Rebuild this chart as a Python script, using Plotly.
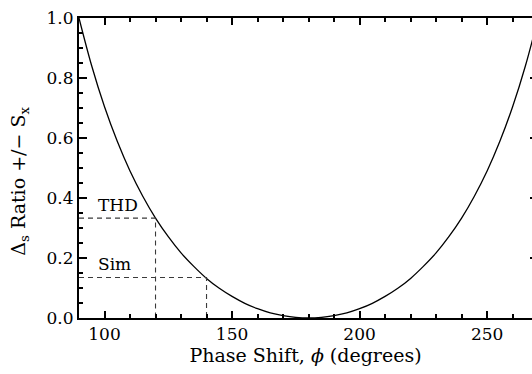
import plotly.graph_objects as go

# Phase shift (degrees) and Delta_S ratio
phase = [90, 95, 100, 105, 110, 115, 120, 125, 130, 135, 140, 145, 150, 155,
         160, 165, 170, 175, 180, 185, 190, 195, 200, 205, 210, 215, 220,
         225, 230, 235, 240, 245, 250, 255, 260, 265, 270]
ratio = [1.000, 0.840, 0.704, 0.589, 0.490, 0.406, 0.333, 0.271, 0.217,
         0.172, 0.132, 0.099, 0.072, 0.049, 0.031, 0.017, 0.008, 0.002,
         0.000, 0.002, 0.008, 0.017, 0.031, 0.049, 0.072, 0.099, 0.132,
         0.172, 0.217, 0.271, 0.333, 0.406, 0.490, 0.589, 0.704, 0.840,
         1.000]

# Marked operating points
mark_labels = ["THD", "Sim"]
mark_phase = [120, 140]
mark_ratio = [0.333, 0.135]

x_min, x_max = 90, 267.6
font_family = "DejaVu Serif"

fig = go.Figure()
fig.add_trace(go.Scatter(x=phase, y=ratio, mode="lines",
                         line=dict(color="black", width=1.3, shape="spline"),
                         showlegend=False, hoverinfo="skip"))

for lab, px, ry in zip(mark_labels, mark_phase, mark_ratio):
    fig.add_trace(go.Scatter(x=[x_min, px, px], y=[ry, ry, 0], mode="lines",
                             line=dict(color="#3a3a3a", width=1.1, dash="5px,4px"),
                             showlegend=False, hoverinfo="skip"))
    fig.add_annotation(x=96.5, y=ry + 0.044, text=lab, showarrow=False,
                       xanchor="left", yanchor="middle",
                       font=dict(family=font_family, size=17, color="black"))

# y-axis title placed as a rotated annotation
fig.add_annotation(xref="paper", yref="paper", x=-0.132, y=0.455,
                   text="Δ<sub>s</sub> Ratio +/− S<sub>x</sub>",
                   textangle=-90, showarrow=False,
                   xanchor="center", yanchor="middle",
                   font=dict(family=font_family, size=19, color="black"))

fig.add_trace(go.Scatter(x=[x_min], y=[0], yaxis="y2", mode="markers",
                         marker=dict(opacity=0), showlegend=False,
                         hoverinfo="skip"))

fig.update_layout(
    width=532, height=374,
    margin=dict(l=79, r=0, t=18, b=56),
    paper_bgcolor="white", plot_bgcolor="white",
    font=dict(family=font_family, size=17, color="black"),
    xaxis=dict(range=[x_min, x_max], showgrid=False, zeroline=False,
               showline=True, linewidth=2, linecolor="black", mirror="ticks",
               ticks="inside", ticklen=7, tickwidth=1.5, tickcolor="black",
               dtick=50, tick0=0,
               minor=dict(dtick=10, ticklen=4, tickwidth=1.5, ticks="inside",
                          tickcolor="black", showgrid=False),
               tickfont=dict(size=17),
               title=dict(text="Phase Shift, <i>ϕ</i> (degrees)",
                          font=dict(size=19), standoff=3)),
    yaxis=dict(range=[0, 1], showgrid=False, zeroline=False,
               showline=True, linewidth=2, linecolor="black",
               ticks="inside", ticklen=8, tickwidth=1.5, tickcolor="black",
               dtick=0.2, tickformat=".1f",
               minor=dict(dtick=0.05, ticklen=4, tickwidth=1.5, ticks="inside",
                          tickcolor="black", showgrid=False),
               tickfont=dict(size=17)),
    yaxis2=dict(range=[0, 1], overlaying="y", side="right", anchor="x",
                showgrid=False, zeroline=False, showline=False,
                showticklabels=False, ticks="inside", ticklen=2,
                tickwidth=1.5, tickcolor="black", dtick=0.2),
)

fig.write_html("out.html")
